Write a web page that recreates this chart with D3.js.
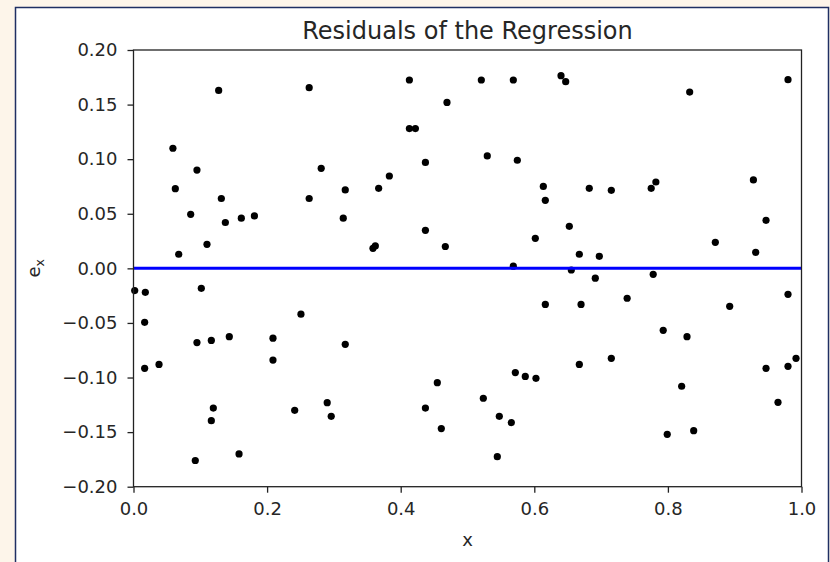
<!DOCTYPE html>
<html>
<head>
<meta charset="utf-8">
<script src="https://cdn.jsdelivr.net/npm/d3@7"></script>
<style>
  body { margin: 0; background: #fdf5ea; }
  svg { display: block; font-family: "DejaVu Sans", sans-serif; }
</style>
</head>
<body>
<div class="chart-container"></div>
<script>
// residual points
const xs = [
  0.1275, 0.059, 0.095, 0.0626, 0.1315, 0.0856, 0.1375, 0.1614, 0.181, 0.110,
  0.0677, 0.0018, 0.0177, 0.1015, 0.0167, 0.095, 0.1165, 0.1434, 0.0167, 0.0382,
  0.1195, 0.1165, 0.0925, 0.158,
  0.263, 0.281, 0.383, 0.317, 0.367, 0.263, 0.314, 0.3585, 0.362, 0.2507,
  0.2088, 0.2088, 0.317, 0.2413, 0.290, 0.296,
  0.413, 0.5207, 0.5686, 0.4693, 0.413, 0.422, 0.437, 0.5296, 0.5746, 0.437,
  0.4668, 0.6015, 0.5686, 0.4548, 0.437, 0.4608, 0.5716, 0.5865, 0.6025, 0.5237,
  0.5476, 0.5656, 0.5446,
  0.640, 0.647, 0.6135, 0.6165, 0.6823, 0.7153, 0.775, 0.782, 0.6524, 0.6674,
  0.6973, 0.6554, 0.6913, 0.778, 0.6165, 0.670, 0.739, 0.793, 0.6674, 0.7153,
  0.799,
  0.8326, 0.9798, 0.928, 0.9469, 0.871, 0.9314, 0.9798, 0.8925, 0.8286, 0.9469,
  0.9798, 0.9918, 0.8206, 0.9648, 0.8386
];
const ys = [
  0.163, 0.110, 0.090, 0.073, 0.064, 0.0495, 0.042, 0.046, 0.048, 0.022,
  0.0129, -0.0204, -0.022, -0.0183, -0.0494, -0.068, -0.066, -0.0626, -0.0916, -0.088,
  -0.128, -0.1395, -0.176, -0.170,
  0.1655, 0.0916, 0.0846, 0.0718, 0.0733, 0.064, 0.046, 0.0183, 0.0205, -0.042,
  -0.064, -0.084, -0.0696, -0.130, -0.123, -0.1355,
  0.1725, 0.1725, 0.1725, 0.152, 0.128, 0.128, 0.097, 0.103, 0.099, 0.0348,
  0.020, 0.0275, 0.002, -0.1047, -0.128, -0.1468, -0.0955, -0.099, -0.1007, -0.119,
  -0.1355, -0.1413, -0.1725,
  0.1765, 0.171, 0.075, 0.0623, 0.0733, 0.0715, 0.0733, 0.0791, 0.0385, 0.0129,
  0.011, -0.0015, -0.009, -0.0055, -0.033, -0.033, -0.0274, -0.0568, -0.088, -0.0824,
  -0.152,
  0.1615, 0.1728, 0.081, 0.044, 0.0238, 0.0147, -0.0238, -0.0348, -0.0626, -0.0916,
  -0.0897, -0.0824, -0.108, -0.1227, -0.1487
];
// regression line (zero residual)
const lineX = [0, 1];
const lineY = [0, 0];

const xTicks = [0, 0.2, 0.4, 0.6, 0.8, 1.0];
const yTicks = [-0.20, -0.15, -0.10, -0.05, 0.00, 0.05, 0.10, 0.15, 0.20];

function draw(){
    const width = 830;
    const height = 562;
    const marginTop = 50;
    const marginRight = 28.5;
    const marginBottom = 75.3;
    const marginLeft = 133.5;

    const x = d3.scaleLinear()
        .domain([0, 1])
        .range([marginLeft, width - marginRight]);

    const y = d3.scaleLinear()
        .domain([-0.2, 0.2])
        .range([height - marginBottom, marginTop]);

    const svg = d3.select('.chart-container').append("svg")
        .attr("width", width)
        .attr("height", height);

    // page background + framed white panel
    svg.append("rect")
        .attr("width", width).attr("height", height)
        .attr("fill", "#fdf5ea");
    svg.append("rect")
        .attr("x", 15.5).attr("y", 7.5)
        .attr("width", 813).attr("height", 600)
        .attr("fill", "#fff")
        .attr("stroke", "#1f2f63")
        .attr("stroke-width", 1.5);

    // x-axis
    const gx = svg.append("g")
        .attr("transform", `translate(0,${height - marginBottom})`)
        .call(d3.axisBottom(x).tickValues(xTicks).tickFormat(d3.format(".1f"))
            .tickSize(6).tickSizeOuter(0).tickPadding(10));
    // y-axis
    const gy = svg.append("g")
        .attr("transform", `translate(${marginLeft},0)`)
        .call(d3.axisLeft(y).tickValues(yTicks).tickFormat(d3.format(".2f"))
            .tickSize(6).tickSizeOuter(0).tickPadding(10));

    [gx, gy].forEach(g => {
        g.select(".domain").remove();
        g.selectAll("line").attr("stroke", "#222").attr("stroke-width", 1.3);
        g.selectAll("text")
            .attr("fill", "#262626")
            .style("font-size", "18px")
            .style("font-family", '"DejaVu Sans", sans-serif');
    });

    // points
    svg.append("g")
        .selectAll("circle")
        .data(xs.map((d, i) => [d, ys[i]]))
        .enter()
        .append("circle")
        .attr("cx", d => x(d[0]))
        .attr("cy", d => y(d[1]))
        .attr("r", 3.6)
        .attr("fill", "#000");

    // zero line on top of the points
    svg.append("path")
        .datum(lineX.map((d, i) => [d, lineY[i]]))
        .attr("d", d3.line().x(d => x(d[0])).y(d => y(d[1])))
        .attr("stroke", "#0000ff")
        .attr("stroke-width", 3)
        .attr("fill", "none");

    // frame
    svg.append("rect")
        .attr("x", marginLeft).attr("y", marginTop)
        .attr("width", width - marginRight - marginLeft)
        .attr("height", height - marginBottom - marginTop)
        .attr("fill", "none")
        .attr("stroke", "#222")
        .attr("stroke-width", 1.3);

    // title and labels
    svg.append("text")
        .attr("x", (marginLeft + width - marginRight) / 2)
        .attr("y", 39)
        .attr("text-anchor", "middle")
        .attr("fill", "#262626")
        .style("font-size", "24px")
        .text("Residuals of the Regression");

    svg.append("text")
        .attr("x", (marginLeft + width - marginRight) / 2)
        .attr("y", 546)
        .attr("text-anchor", "middle")
        .attr("fill", "#262626")
        .style("font-size", "18px")
        .text("x");

    const yl = svg.append("text")
        .attr("transform", `translate(40,${y(0)}) rotate(-90)`)
        .attr("text-anchor", "middle")
        .attr("fill", "#262626")
        .style("font-size", "18px");
    yl.append("tspan").text("e");
    yl.append("tspan").attr("dy", 4).style("font-size", "12.5px").text("x");
}

draw();
</script>
</body>
</html>
